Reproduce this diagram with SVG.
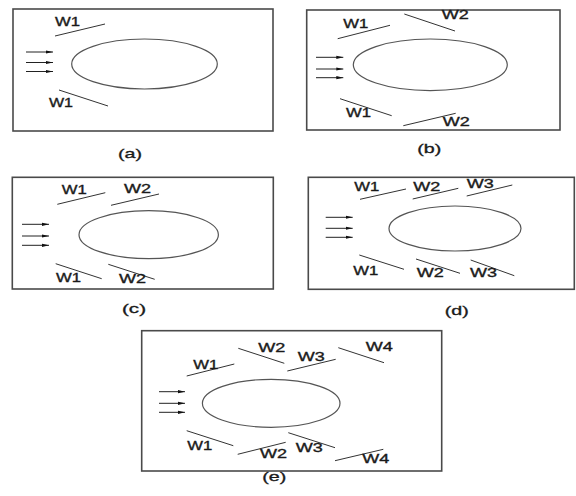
<svg xmlns="http://www.w3.org/2000/svg" width="576" height="496" viewBox="0 0 576 496">
<defs>
<marker id="ah" markerUnits="userSpaceOnUse" markerWidth="8" markerHeight="6" refX="7" refY="3" orient="auto">
<path d="M0,1.4 L7,3 L0,4.6 Z" fill="#111"/>
</marker>
<style>
.frame{fill:none;stroke:#4a4a4a;stroke-width:1.6}
.body{fill:none;stroke:#555;stroke-width:1.2}
.wall{stroke:#333;stroke-width:1}
.flow{stroke:#222;stroke-width:1;marker-end:url(#ah)}
.w{font-family:"Liberation Sans",Arial,sans-serif;font-size:12.5px;fill:#1a1a1a;stroke:#1a1a1a;stroke-width:0.35}
.cap{font-family:"Liberation Sans",Arial,sans-serif;font-size:13.5px;fill:#1a1a1a;stroke:#1a1a1a;stroke-width:0.35;text-anchor:middle}
</style>
</defs>
<rect width="576" height="496" fill="#fff"/>

<g id="panel-a">
<rect class="frame" x="13" y="9" width="260" height="122"/>
<ellipse class="body" cx="144.5" cy="64" rx="72.8" ry="25"/>
<g id="walls-a">
<line class="wall" x1="55" y1="36" x2="105" y2="24"/>
<line class="wall" x1="59" y1="90" x2="108" y2="106"/>
</g>
<g id="flow-a">
<line class="flow" x1="26" y1="52" x2="53" y2="52"/>
<line class="flow" x1="26" y1="62.5" x2="53" y2="62.5"/>
<line class="flow" x1="26" y1="71.5" x2="53" y2="71.5"/>
</g>
<text class="w" x="55" y="26" textLength="25" lengthAdjust="spacingAndGlyphs">W1</text>
<text class="w" x="49" y="106.7" textLength="24" lengthAdjust="spacingAndGlyphs">W1</text>
<text class="cap" x="130" y="158" textLength="24" lengthAdjust="spacingAndGlyphs">(a)</text>
</g>

<g id="panel-b">
<rect class="frame" x="306.7" y="10" width="253.3" height="120"/>
<ellipse class="body" cx="430.3" cy="64.8" rx="77" ry="25.8"/>
<g id="walls-b">
<line class="wall" x1="337.7" y1="38.7" x2="390" y2="25.3"/>
<line class="wall" x1="404.3" y1="14" x2="455" y2="31"/>
<line class="wall" x1="340" y1="98.7" x2="391.7" y2="115.7"/>
<line class="wall" x1="403.3" y1="125.7" x2="455.7" y2="113.3"/>
</g>
<g id="flow-b">
<line class="flow" x1="316" y1="57.3" x2="343.3" y2="57.3"/>
<line class="flow" x1="316" y1="69" x2="343.3" y2="69"/>
<line class="flow" x1="316" y1="77.7" x2="343.3" y2="77.7"/>
</g>
<text class="w" x="343.3" y="28.3" textLength="25" lengthAdjust="spacingAndGlyphs">W1</text>
<text class="w" x="441.7" y="19.3" textLength="27" lengthAdjust="spacingAndGlyphs">W2</text>
<text class="w" x="346" y="116.7" textLength="25" lengthAdjust="spacingAndGlyphs">W1</text>
<text class="w" x="442.7" y="126" textLength="27" lengthAdjust="spacingAndGlyphs">W2</text>
<text class="cap" x="429.3" y="153" textLength="24" lengthAdjust="spacingAndGlyphs">(b)</text>
</g>

<g id="panel-c">
<rect class="frame" x="12.3" y="177.3" width="261" height="111.7"/>
<ellipse class="body" cx="148.7" cy="234.7" rx="69.7" ry="24"/>
<g id="walls-c">
<line class="wall" x1="57.3" y1="204.3" x2="105.3" y2="192.7"/>
<line class="wall" x1="111" y1="205.3" x2="159" y2="194"/>
<line class="wall" x1="55.7" y1="263.7" x2="101.7" y2="278.7"/>
<line class="wall" x1="108.3" y1="264.3" x2="154.7" y2="279.3"/>
</g>
<g id="flow-c">
<line class="flow" x1="22" y1="224.3" x2="49" y2="224.3"/>
<line class="flow" x1="22" y1="236" x2="49" y2="236"/>
<line class="flow" x1="22" y1="245.3" x2="49" y2="245.3"/>
</g>
<text class="w" x="61.7" y="194" textLength="25" lengthAdjust="spacingAndGlyphs">W1</text>
<text class="w" x="124" y="192.7" textLength="27" lengthAdjust="spacingAndGlyphs">W2</text>
<text class="w" x="56" y="282.3" textLength="25" lengthAdjust="spacingAndGlyphs">W1</text>
<text class="w" x="119" y="283.3" textLength="27" lengthAdjust="spacingAndGlyphs">W2</text>
<text class="cap" x="134" y="313" textLength="24" lengthAdjust="spacingAndGlyphs">(c)</text>
</g>

<g id="panel-d">
<rect class="frame" x="308.3" y="177.3" width="266" height="112"/>
<ellipse class="body" cx="455" cy="228.5" rx="66" ry="22.5"/>
<g id="walls-d">
<line class="wall" x1="360" y1="199.3" x2="406" y2="189"/>
<line class="wall" x1="412.7" y1="199" x2="458.3" y2="188.3"/>
<line class="wall" x1="466.7" y1="196" x2="512.3" y2="185"/>
<line class="wall" x1="359.3" y1="255" x2="404" y2="269.3"/>
<line class="wall" x1="416" y1="259" x2="460" y2="273.3"/>
<line class="wall" x1="470.7" y1="260" x2="514.3" y2="275.7"/>
</g>
<g id="flow-d">
<line class="flow" x1="325.7" y1="217.3" x2="352.7" y2="217.3"/>
<line class="flow" x1="325.7" y1="228.3" x2="352.7" y2="228.3"/>
<line class="flow" x1="325.7" y1="237.3" x2="352.7" y2="237.3"/>
</g>
<text class="w" x="354.3" y="190.7" textLength="25" lengthAdjust="spacingAndGlyphs">W1</text>
<text class="w" x="413.3" y="190.7" textLength="27" lengthAdjust="spacingAndGlyphs">W2</text>
<text class="w" x="466.7" y="188.3" textLength="27" lengthAdjust="spacingAndGlyphs">W3</text>
<text class="w" x="353.3" y="275" textLength="25" lengthAdjust="spacingAndGlyphs">W1</text>
<text class="w" x="416.7" y="276.7" textLength="27" lengthAdjust="spacingAndGlyphs">W2</text>
<text class="w" x="470" y="277.3" textLength="27" lengthAdjust="spacingAndGlyphs">W3</text>
<text class="cap" x="456.7" y="315" textLength="24" lengthAdjust="spacingAndGlyphs">(d)</text>
</g>

<g id="panel-e">
<rect class="frame" x="141.7" y="330.7" width="300" height="140.3"/>
<ellipse class="body" cx="271.2" cy="403.3" rx="68.8" ry="24"/>
<g id="walls-e">
<line class="wall" x1="186.7" y1="376" x2="234.3" y2="364"/>
<line class="wall" x1="238.3" y1="348.3" x2="284.3" y2="363.3"/>
<line class="wall" x1="287.3" y1="371" x2="335.7" y2="359.3"/>
<line class="wall" x1="338.3" y1="347.7" x2="384" y2="362.7"/>
<line class="wall" x1="186.7" y1="430.7" x2="233.3" y2="445.7"/>
<line class="wall" x1="237.7" y1="454.3" x2="285.7" y2="442.3"/>
<line class="wall" x1="288.3" y1="432.7" x2="335" y2="447.7"/>
<line class="wall" x1="335" y1="460.7" x2="383.3" y2="449.3"/>
</g>
<g id="flow-e">
<line class="flow" x1="159" y1="391.7" x2="185" y2="391.7"/>
<line class="flow" x1="159" y1="403.3" x2="185" y2="403.3"/>
<line class="flow" x1="159" y1="412.3" x2="185" y2="412.3"/>
</g>
<text class="w" x="193.3" y="369.3" textLength="25" lengthAdjust="spacingAndGlyphs">W1</text>
<text class="w" x="258.3" y="351.7" textLength="27" lengthAdjust="spacingAndGlyphs">W2</text>
<text class="w" x="297.7" y="361" textLength="27" lengthAdjust="spacingAndGlyphs">W3</text>
<text class="w" x="365.7" y="351" textLength="27" lengthAdjust="spacingAndGlyphs">W4</text>
<text class="w" x="187.3" y="450" textLength="25" lengthAdjust="spacingAndGlyphs">W1</text>
<text class="w" x="260" y="458.3" textLength="27" lengthAdjust="spacingAndGlyphs">W2</text>
<text class="w" x="295.7" y="451.7" textLength="27" lengthAdjust="spacingAndGlyphs">W3</text>
<text class="w" x="362.3" y="463.3" textLength="27" lengthAdjust="spacingAndGlyphs">W4</text>
<text class="cap" x="274.3" y="481" textLength="24" lengthAdjust="spacingAndGlyphs">(e)</text>
</g>
</svg>
